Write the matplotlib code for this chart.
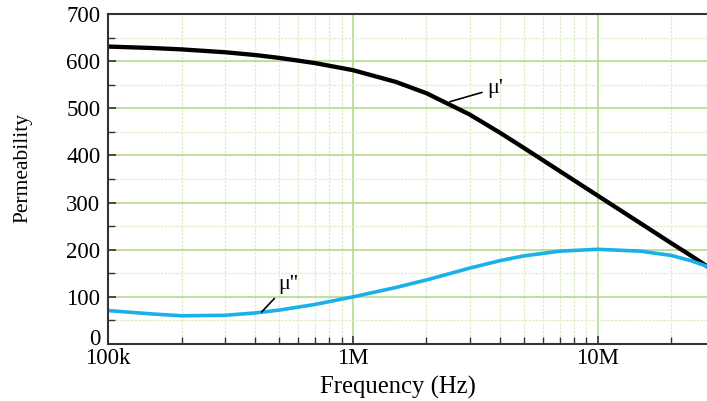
import matplotlib.pyplot as plt
from matplotlib.ticker import FixedLocator, LogLocator, MultipleLocator, NullFormatter, FuncFormatter

plt.rcParams["font.family"] = ["Liberation Serif", "DejaVu Serif"]

# values
freq_hz = [1e5, 1.5e5, 2e5, 3e5, 4e5, 5e5, 7e5, 1e6, 1.5e6, 2e6, 3e6, 4e6, 5e6, 7e6,
           1e7, 1.5e7, 2e7, 2.4e7, 2.8e7]
mu_real = [631, 628, 625, 619, 613, 607, 596, 581, 556, 532, 487, 448, 416, 367,
           315, 256, 214, 188, 165]
mu_imag = [71, 64, 60, 61, 66, 72, 84, 100, 120, 136, 161, 177, 187, 197,
           201, 197, 188, 177, 165]

x_ticks = [1e5, 1e6, 1e7]
x_tick_labels = ["100k", "1M", "10M"]

fig = plt.figure(figsize=(7.07, 4.01), dpi=100)
ax = fig.add_axes([0.1528, 0.142, 0.8472, 0.823])

ax.set_xscale("log")
ax.set_xlim(1e5, 2.8e7)
ax.set_ylim(0, 700)

ax.xaxis.set_major_locator(FixedLocator(x_ticks))
ax.set_xticklabels(x_tick_labels)
ax.xaxis.set_minor_locator(LogLocator(base=10, subs=range(2, 10)))
ax.xaxis.set_minor_formatter(NullFormatter())
ax.yaxis.set_major_locator(MultipleLocator(100))
ax.yaxis.set_minor_locator(MultipleLocator(50))
# "0" is drawn separately, a little above the axis line as in the original
ax.yaxis.set_major_formatter(FuncFormatter(lambda v, pos: "" if v == 0 else f"{v:.0f}"))

ax.grid(which="major", color="#b5da8a", linewidth=1.2)
ax.grid(which="minor", color="#dcedc6", linewidth=0.9, linestyle=(0, (2, 1)))
ax.set_axisbelow(True)

ax.plot(freq_hz, mu_real, color="black", linewidth=3.1, solid_joinstyle="round")
ax.plot(freq_hz, mu_imag, color="#1ab0e8", linewidth=2.6, solid_joinstyle="round")

ax.annotate("μ'", xy=(2.49e6, 514), xytext=(3.55e6, 542), fontsize=16,
            va="center", ha="left",
            arrowprops=dict(arrowstyle="-", color="black", linewidth=1.2,
                            shrinkA=2, shrinkB=0))
ax.annotate("μ''", xy=(4.24e5, 68), xytext=(4.95e5, 127), fontsize=16,
            va="center", ha="left",
            arrowprops=dict(arrowstyle="-", color="black", linewidth=1.2,
                            shrinkA=2, shrinkB=0))
ax.annotate("0", xy=(0, 0), xycoords=("axes fraction", "data"),
            xytext=(-5.5, 3.5), textcoords="offset points",
            ha="right", va="center", fontsize=16.5)

for side in ("left", "bottom", "top"):
    ax.spines[side].set_color("#333333")
    ax.spines[side].set_linewidth(1.5)
ax.spines["right"].set_visible(False)

ax.tick_params(which="both", direction="in", colors="#333333", labelcolor="black",
               labelsize=16.5, top=False, right=False)
ax.tick_params(which="major", length=6, width=1.2)
ax.tick_params(which="minor", length=5, width=1.0)
ax.tick_params(axis="x", pad=2.5)
ax.tick_params(axis="y", pad=5.5)

ax.set_xlabel("Frequency (Hz)", fontsize=17.8)
ax.xaxis.set_label_coords(0.484, -0.095)
ax.set_ylabel("Permeability", fontsize=15.5)
ax.yaxis.set_label_coords(-0.127, 0.532)

fig.savefig("out.png", dpi=100)
